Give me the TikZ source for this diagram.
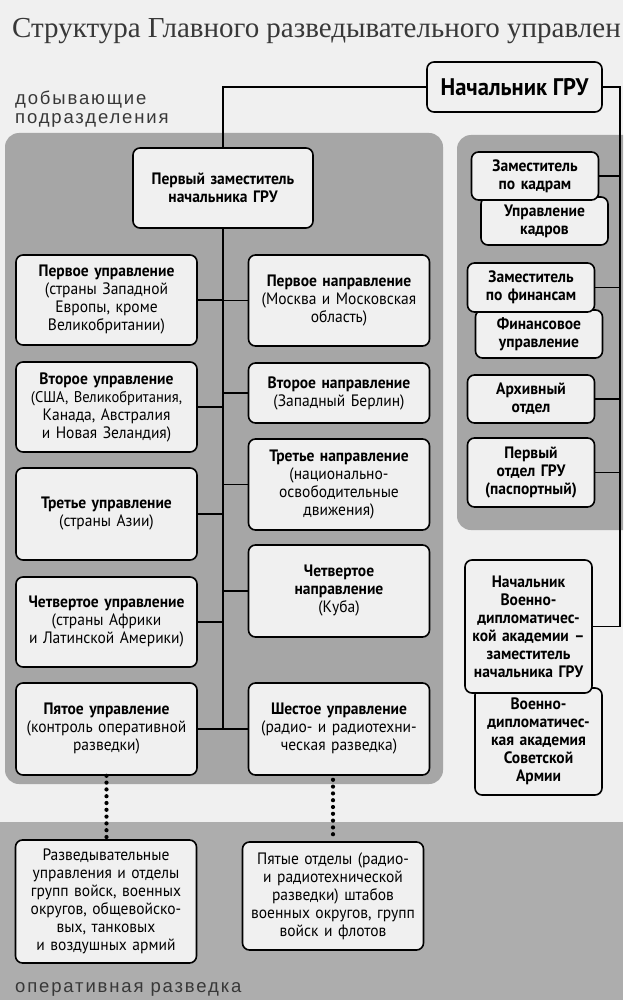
\documentclass[tikz,border=0pt]{standalone}
\usepackage{fontspec}
\setmainfont{PT Sans}[FakeStretch=0.94]
\newfontfamily\titlefont{Liberation Serif}
\newfontfamily\tagfont{Liberation Sans}[LetterSpace=10]
\definecolor{pagebg}{gray}{0.94}
\definecolor{panelgray}{gray}{0.65}
\definecolor{bandgray}{gray}{0.68}
\definecolor{boxfill}{gray}{0.94}
\definecolor{inkgray}{gray}{0.22}
\tikzset{
	unit/.style={draw=black, line width=1.6pt, fill=boxfill, rounded corners=7pt, align=center, inner sep=0pt, font=\fontsize{16.5}{18}\selectfont\bfseries},
	colL/.style={unit, minimum width=181pt, text width=179pt},
	colR/.style={unit, minimum width=127pt, text width=127pt},
	link/.style={line width=1.5pt},
	dots/.style={line width=4.2pt, line cap=round, dash pattern=on 0pt off 6.8pt},
	tag/.style={inner sep=0pt, text=inkgray, font=\tagfont\fontsize{18.5}{18.5}\selectfont}
}
\begin{document}
\begin{tikzpicture}[x=1pt, y=-1pt]
	\useasboundingbox (0,0) rectangle (623,1000);
	\clip (0,0) rectangle (623,1000);
	\fill[pagebg] (0,0) rectangle (623,1000);
	% panels and band
	\fill[panelgray, rounded corners=14pt] (5,133) rectangle (443,784);
	\fill[panelgray, rounded corners=14pt] (457,135) rectangle (670,530);
	\fill[bandgray] (0,822) rectangle (623,1000);
	\node[anchor=base west, inner sep=0pt, text=inkgray, font=\titlefont\fontsize{29}{30}\selectfont] (title) at (12,38) {Структура Главного разведывательного управлен};
	\node[tag, anchor=north west, align=left] (tagtop) at (15,91) {добывающие\\подразделения};
	\node[tag, anchor=base west] (tagbot) at (15,992) {оперативная разведка};
	% head
	\node[unit, minimum width=175pt, minimum height=50pt, font=\fontsize{24}{26}\selectfont\bfseries] (chief) at (514.5,87) {Начальник ГРУ};
	\node[unit, minimum width=180pt, minimum height=80pt, text width=178pt] (dep1) at (223,188) {Первый заместитель\\начальника ГРУ};
	% left column
	\node[colL, minimum height=90pt] (upr1) at (106.5,300) {Первое управление\\\mdseries(страны Западной\\Европы, кроме\\Великобритании)};
	\node[colL, minimum height=90pt] (upr2) at (106.5,407) {Второе управление\\\mdseries{\fontsize{15.5}{18}\selectfont(США, Великобритания,}\\Канада, Австралия\\и Новая Зеландия)};
	\node[colL, minimum height=92pt] (upr3) at (106.5,514) {Третье управление\\\mdseries(страны Азии)};
	\node[colL, minimum height=90pt] (upr4) at (106.5,622) {Четвертое управление\\\mdseries(страны Африки\\и Латинской Америки)};
	\node[colL, minimum height=92pt] (upr5) at (106.5,729) {Пятое управление\\\mdseries(контроль оперативной\\разведки)};
	% right column
	\node[colL, minimum height=91pt] (napr1) at (339,300.5) {Первое направление\\\mdseries(Москва и Московская\\область)};
	\node[colL, minimum height=60pt] (napr2) at (339,393) {Второе направление\\\mdseries(Западный Берлин)};
	\node[colL, minimum height=91pt] (napr3) at (339,484.5) {Третье направление\\\mdseries(национально-\\освободительные\\движения)};
	\node[colL, minimum height=92pt] (napr4) at (339,591) {Четвертое\\направление\\\mdseries(Куба)};
	\node[colL, minimum height=92pt] (napr5) at (339,729) {Шестое управление\\\mdseries(радио- и радиотехни-\\ческая разведка)};
	% staff
	\node[colR, minimum height=48pt] (kadrU) at (544.5,221) {Управление\\кадров};
	\node[colR, minimum height=48pt] (kadr) at (535,176) {Заместитель\\по кадрам};
	\node[colR, minimum height=48pt] (finU) at (539,334) {Финансовое\\управление};
	\node[colR, minimum height=49pt] (fin) at (531,287.5) {Заместитель\\по финансам};
	\node[colR, minimum height=48pt] (arch) at (531,399) {Архивный\\отдел};
	\node[colR, minimum height=69pt] (first) at (531,472.5) {Первый\\отдел ГРУ\\(паспортный)};
	\node[colR, minimum height=107pt] (vdaA) at (538.5,741.5) {Военно-\\дипломатичес-\\кая академия\\Советской\\Армии};
	\node[colR, minimum height=133pt] (vda) at (528.5,626.5) {Начальник\\Военно-\\дипломатичес-\\кой академии –\\заместитель\\начальника ГРУ};
	% operational
	\node[colL, minimum height=123pt, font=\fontsize{16.5}{18}\selectfont] (opB1) at (106,901.5) {Разведывательные\\управления и отделы\\групп войск, военных\\округов, общевойско-\\вых, танковых\\и воздушных армий};
	\node[colL, minimum height=108pt, font=\fontsize{16.5}{18}\selectfont] (opB2) at (333,896) {Пятые отделы (радио-\\и радиотехнической\\разведки) штабов\\военных округов, групп\\войск и флотов};
	% links
	\coordinate (rail) at (620,87);
	\draw[link] (chief.west) -| (dep1.north)
	(dep1.south) -- (dep1.south |- upr5.east);
	\foreach \i in {1,...,5}
	\draw[link] (upr\i.east) -- (upr\i.east -| dep1.south)
	(napr\i.west) -- (napr\i.west -| dep1.south);
	\draw[link] (chief.east) -| (vda.east -| rail) -- (vda.east);
	\foreach \n in {kadr,fin,arch,first}
	\draw[link] (\n.east) -- (\n.east -| rail);
	\draw[dots, shorten <=4pt, shorten >=3pt] (upr5.south) -- (upr5.south |- opB1.north)
	(opB2.north |- upr5.south) -- (opB2.north);
\end{tikzpicture}
\end{document}
